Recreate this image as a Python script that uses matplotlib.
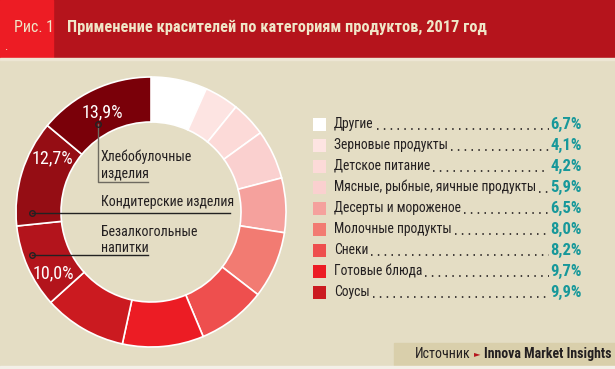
import matplotlib.pyplot as plt
from matplotlib.patches import Rectangle

# Data
categories = ['Другие', 'Зерновые продукты', 'Детское питание',
              'Мясные, рыбные, яичные продукты', 'Десерты и мороженое',
              'Молочные продукты', 'Снеки', 'Готовые блюда', 'Соусы',
              'Безалкогольные напитки', 'Кондитерские изделия',
              'Хлебобулочные изделия']
values = [6.7, 4.1, 4.2, 5.9, 6.5, 8.0, 8.2, 9.7, 9.9, 10.0, 12.7, 13.9]
colors = ['#FFFFFF', '#FDE4E2', '#FCDAD8', '#FAD0CF', '#F5A19D', '#F27B72',
          '#EE4F4E', '#EC1C24', '#CB1A20', '#B3141C', '#950D14', '#7A0009']
legend_count = 9  # first nine go to the legend on the right

title = 'Применение красителей по категориям продуктов, 2017 год'
fig_label = 'Рис. 1'

NARROW = ['Roboto Condensed', 'Liberation Sans Narrow', 'Roboto', 'DejaVu Sans']
BG = '#E4DDC4'
W, H = 615, 369


def Y(y):
    # pixel row (from top) -> data y
    return H - y


fig = plt.figure(figsize=(W / 100, H / 100), dpi=100)
fig.patch.set_facecolor(BG)
ax = fig.add_axes([0, 0, 1, 1])
ax.set_facecolor(BG)

# donut
cx, cy, R, r = 151, 212, 135, 90
wedges, _ = ax.pie(values, colors=colors, startangle=90, counterclock=False,
                   center=(cx, Y(cy)), radius=R,
                   wedgeprops=dict(width=R - r, edgecolor='white', linewidth=1.2))
for w in wedges:
    w.set_zorder(2)

ax.set_xlim(0, W)
ax.set_ylim(0, H)
ax.set_aspect('auto')
ax.axis('off')

# header
ax.add_patch(Rectangle((0, Y(58)), W, 58, color='#B5141C', zorder=1))
ax.add_patch(Rectangle((0, Y(58)), 53, 58, color='#ED1C24', zorder=2))
ax.add_patch(Rectangle((0, Y(60)), W, 2, color='#EDE6D4', zorder=2))
ax.text(14, Y(27), fig_label, family=NARROW, fontsize=11.5, color='#F0E6C8',
        va='center', ha='left', zorder=3)
ax.text(4, Y(46), '.', family=NARROW, fontsize=9, color='#F0E6C8',
        va='center', ha='left', zorder=3)
ax.text(67, Y(27), title, family=NARROW, fontsize=11.8, fontweight='bold',
        color='#F0E6C8', va='center', ha='left', zorder=3)

# percent labels on the three big segments
ax.text(102, Y(112), '13,9%', family=NARROW, fontsize=13, color='white',
        ha='center', va='center', zorder=4)
ax.text(52, Y(158), '12,7%', family=NARROW, fontsize=13, color='white',
        ha='center', va='center', zorder=4)
ax.text(53, Y(273), '10,0%', family=NARROW, fontsize=13, color='white',
        ha='center', va='center', zorder=4)

# callouts
line_c = '#222222'
ax.plot([98, 98, 148], [Y(124), Y(182), Y(182)], color='#6E6A60', lw=1, zorder=4)
ax.plot([98], [Y(124)], 'o', ms=4, mfc='none', mec='#222222', mew=1, zorder=5)
ax.text(101, Y(157), 'Хлебобулочные', family=NARROW, fontsize=10,
        color='#231F20', va='center', zorder=4)
ax.text(101, Y(174), 'изделия', family=NARROW, fontsize=10,
        color='#231F20', va='center', zorder=4)

ax.plot([32, 230], [Y(213), Y(213)], color=line_c, lw=1, zorder=4)
ax.plot([32], [Y(213)], 'o', ms=4, mfc='none', mec='#222222', mew=1, zorder=5)
ax.text(101, Y(202), 'Кондитерские изделия', family=NARROW, fontsize=10,
        color='#231F20', va='center', zorder=4)

ax.plot([32, 148], [Y(255), Y(255)], color=line_c, lw=1, zorder=4)
ax.plot([32], [Y(255)], 'o', ms=4, mfc='none', mec='#222222', mew=1, zorder=5)
ax.text(101, Y(232), 'Безалкогольные', family=NARROW, fontsize=10,
        color='#231F20', va='center', zorder=4)
ax.text(101, Y(248), 'напитки', family=NARROW, fontsize=10,
        color='#231F20', va='center', zorder=4)

# legend
fig.canvas.draw()
renderer = fig.canvas.get_renderer()
for i in range(legend_count):
    yc = 124 + 21 * i
    ax.add_patch(Rectangle((313, Y(yc + 6.5)), 13, 13, facecolor=colors[i],
                           edgecolor='none', zorder=3))
    t = ax.text(334, Y(yc), categories[i], family=NARROW, fontsize=9.8,
                color='#231F20', va='center', ha='left', zorder=3)
    v = ax.text(582, Y(yc), f'{values[i]:.1f}'.replace('.', ',') + '%',
                family=NARROW, fontsize=12, fontweight='bold',
                color='#17989A', va='center', ha='right', zorder=3)
    x0 = t.get_window_extent(renderer).x1 + 3
    x1 = v.get_window_extent(renderer).x0 - 2
    ax.plot([x0, x1], [Y(yc + 4.5), Y(yc + 4.5)], color='#231F20', lw=1.2,
            linestyle=(0, (0.9, 3.2)), zorder=3)

# source box
ax.add_patch(Rectangle((394, Y(366)), W - 394, 23, color='#D9CFAB', zorder=1))
ax.add_patch(Rectangle((0, 0), W, 3, color='#F3F0E8', zorder=2))
src = ax.text(611, Y(354), 'Innova Market Insights', family=NARROW,
              fontsize=10, fontweight='bold', color='#231F20',
              ha='right', va='center', zorder=3)
bx = src.get_window_extent(renderer).x0
ax.text(bx - 3, Y(354), '►', family='DejaVu Sans', fontsize=6,
        color='#B5141C', ha='right', va='center', zorder=3)
ax.text(bx - 13, Y(354), 'Источник', family=NARROW, fontsize=10,
        color='#231F20', ha='right', va='center', zorder=3)

fig.savefig('out.png', dpi=100, facecolor=BG)
